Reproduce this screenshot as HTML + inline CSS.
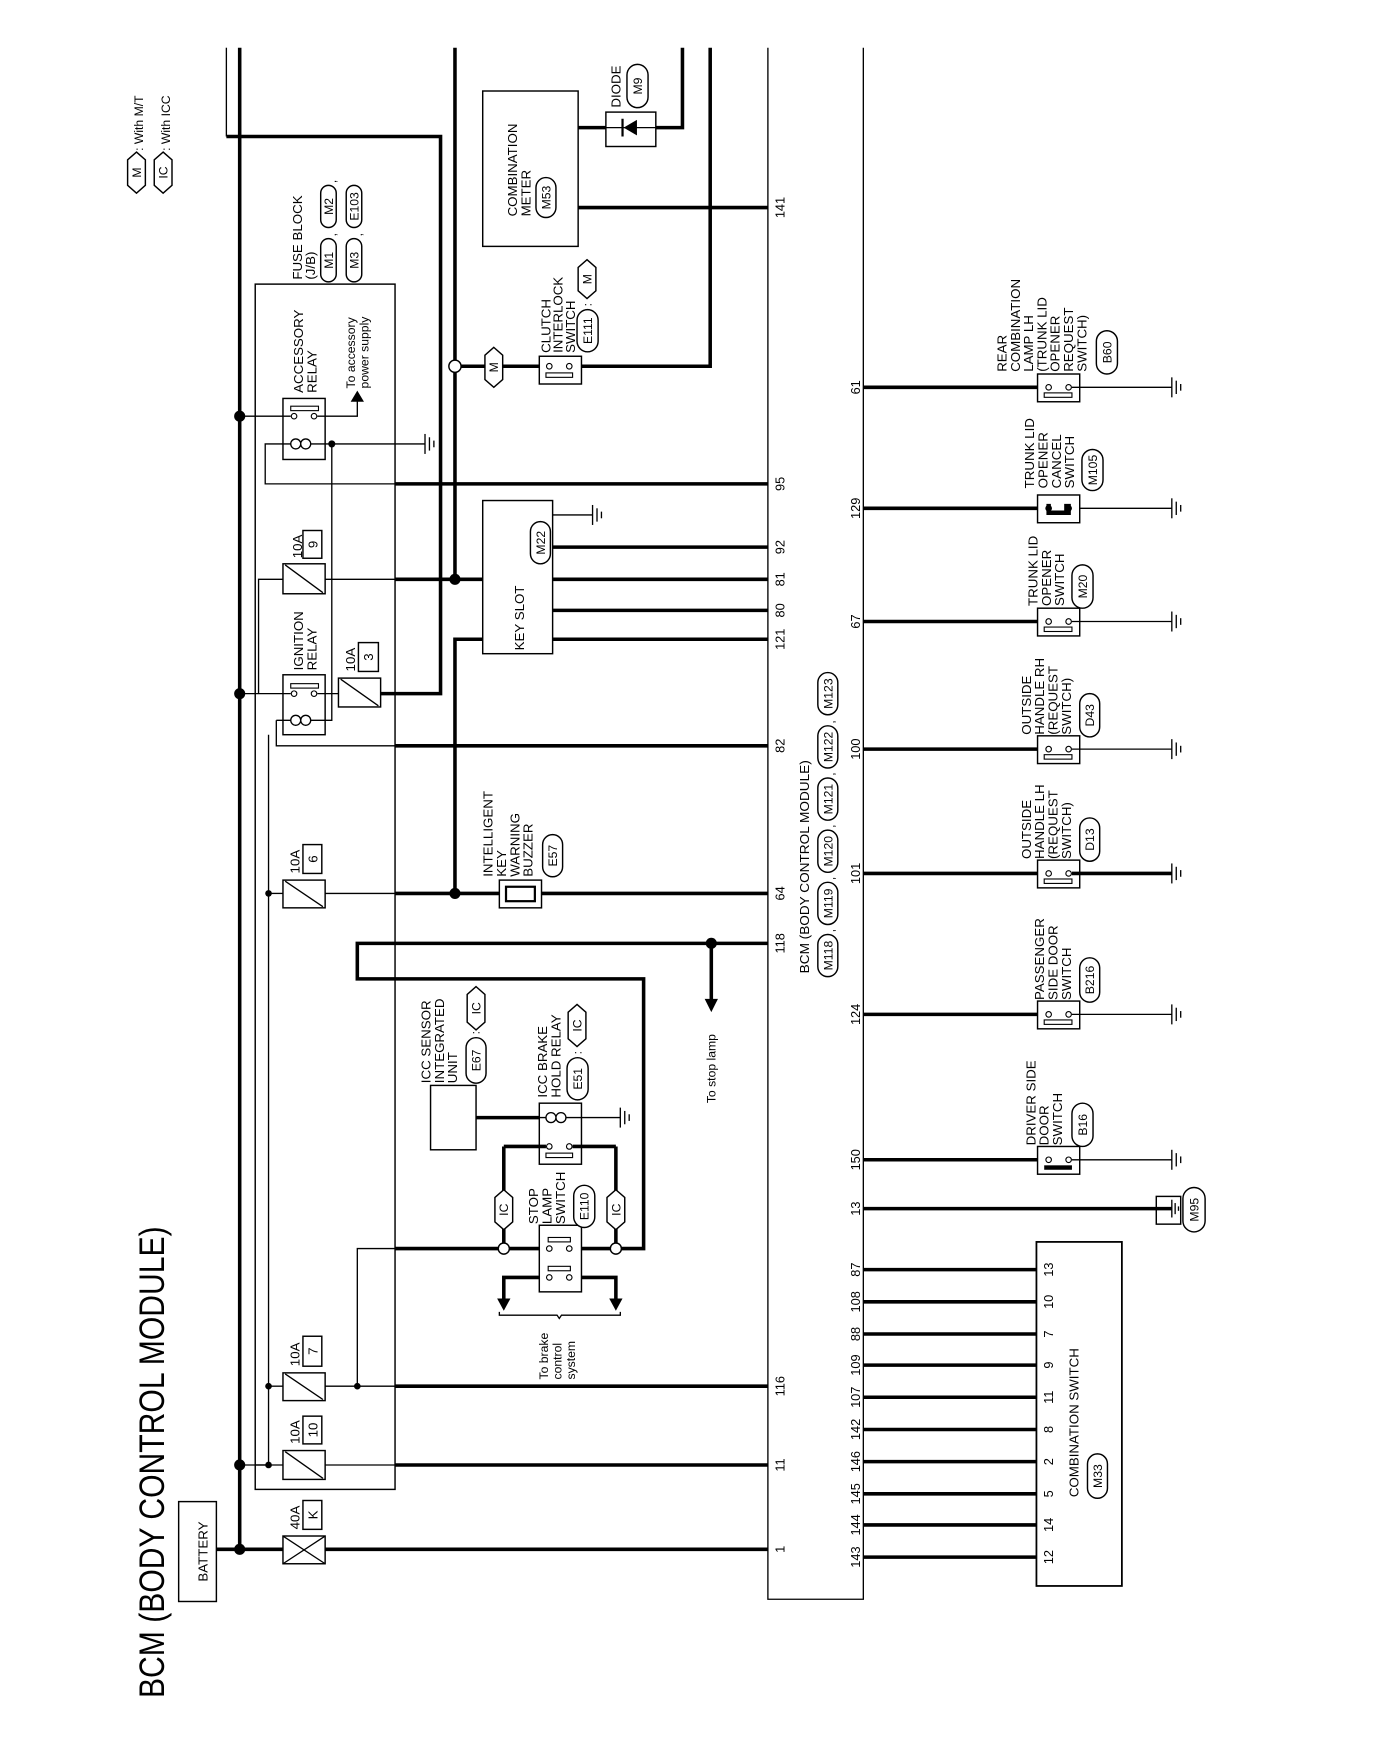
<!DOCTYPE html>
<html><head><meta charset="utf-8"><style>
html,body{margin:0;padding:0;background:#fff;}
svg{display:block;}
text{font-family:"Liberation Sans",Arial,sans-serif;fill:#000;}
.t{font-size:12px;}
.s{font-size:11px;}
.p{font-size:11.5px;}
.k{stroke:#000;stroke-width:3.2;fill:none;}
.n{stroke:#000;stroke-width:1.2;fill:none;}
.b{stroke:#000;stroke-width:1.3;fill:#fff;}
</style></head><body>
<svg width="1376" height="1738" viewBox="0 0 1240 1566" preserveAspectRatio="none" xmlns="http://www.w3.org/2000/svg">
<rect width="1240" height="1566" fill="#fff"/>

<!-- Title -->
<text transform="translate(148,1530) rotate(-90)" style="font-size:32px" textLength="425" lengthAdjust="spacingAndGlyphs">BCM (BODY CONTROL MODULE)</text>

<!-- Legend -->
<polygon class="b" points="123,137 131,144 131,167 123,174 115,167 115,144"/>
<text class="s" transform="translate(127,155.5) rotate(-90)" text-anchor="middle">M</text>
<text class="s" transform="translate(129,136) rotate(-90)">: With M/T</text>
<polygon class="b" points="147,137 155,144 155,167 147,174 139,167 139,144"/>
<text class="s" transform="translate(151,155.5) rotate(-90)" text-anchor="middle">IC</text>
<text class="s" transform="translate(153,136) rotate(-90)">: With ICC</text>

<!-- Battery -->
<rect class="b" x="161" y="1353" width="34" height="90"/>
<text class="t" transform="translate(187,1398) rotate(-90)" text-anchor="middle">BATTERY</text>

<!-- Main bus -->
<line class="k" x1="216" y1="43" x2="216" y2="1396"/>
<line class="n" x1="204" y1="43" x2="204" y2="123"/>
<polyline class="k" points="204,123 397,123 397,625 343,625"/>
<line class="k" x1="410" y1="43" x2="410" y2="522"/>
<polyline class="k" points="435,576 410,576 410,805"/>
<polyline class="k" points="615,43 615,115 591,115"/>
<polyline class="k" points="640,43 640,330 524,330"/>

<!-- BCM box -->
<polyline class="n" points="692,43 692,1441 778,1441 778,43"/>
<text class="t" transform="translate(729,877) rotate(-90)" textLength="192" lengthAdjust="spacingAndGlyphs">BCM (BODY CONTROL MODULE)</text>

<!-- Fuse block box -->
<rect x="230" y="256" width="126" height="1086" fill="none" stroke="#000" stroke-width="1.3"/>
<text class="t" transform="translate(272,252) rotate(-90)">FUSE BLOCK</text>
<text class="t" transform="translate(284,252) rotate(-90)">(J/B)</text>

<!-- Battery line & fuse K -->
<line class="k" x1="195" y1="1396" x2="255" y2="1396"/>
<line class="k" x1="293" y1="1396" x2="692" y2="1396"/>
<rect class="b" x="255" y="1384" width="38" height="25"/>
<line class="n" x1="255" y1="1384" x2="293" y2="1409"/><line class="n" x1="293" y1="1384" x2="255" y2="1409"/>
<circle cx="216" cy="1396" r="5"/>
<text class="t" transform="translate(270,1378) rotate(-90)">40A</text>
<rect class="b" x="273" y="1352" width="17" height="26"/>
<text class="t" transform="translate(286,1365) rotate(-90)" text-anchor="middle">K</text>

<!-- Fuse 10 -> pin 11 -->
<line class="n" x1="216" y1="1320" x2="255" y2="1320"/>
<line class="n" x1="293" y1="1320" x2="356" y2="1320"/>
<line class="k" x1="356" y1="1320" x2="692" y2="1320"/>
<rect class="b" x="255" y="1307" width="38" height="26"/><line class="n" x1="257" y1="1308" x2="291" y2="1332"/>
<circle cx="216" cy="1320" r="5"/><circle cx="242" cy="1320" r="3"/>
<text class="t" transform="translate(270,1301) rotate(-90)">10A</text>
<rect class="b" x="273" y="1276" width="17" height="25"/>
<text class="t" transform="translate(286,1288.5) rotate(-90)" text-anchor="middle">10</text>
<line class="n" x1="230" y1="1320" x2="242" y2="1320"/>

<!-- Fuse 7 -> pin 116 -->
<line class="n" x1="242" y1="662" x2="242" y2="1320"/>
<line class="n" x1="242" y1="1249" x2="255" y2="1249"/>
<line class="n" x1="293" y1="1249" x2="356" y2="1249"/>
<line class="k" x1="356" y1="1249" x2="692" y2="1249"/>
<rect class="b" x="255" y="1237" width="38" height="25"/><line class="n" x1="257" y1="1238" x2="291" y2="1261"/>
<circle cx="242" cy="1249" r="3"/><circle cx="322" cy="1249" r="3"/>
<text class="t" transform="translate(270,1231) rotate(-90)">10A</text>
<rect class="b" x="273" y="1204" width="17" height="27"/>
<text class="t" transform="translate(286,1217.5) rotate(-90)" text-anchor="middle">7</text>
<polyline class="n" points="322,1249 322,1125 356,1125"/>
<line class="k" x1="356" y1="1125" x2="449" y2="1125"/>

<!-- Stop lamp switch -->
<rect class="b" x="486" y="1104" width="38" height="60"/>
<rect x="494" y="1115" width="20" height="4" fill="#fff" stroke="#000" stroke-width="1"/>
<rect x="494" y="1141" width="20" height="4" fill="#fff" stroke="#000" stroke-width="1"/>
<circle cx="495" cy="1125" r="2.5" fill="#fff" stroke="#000"/><circle cx="513" cy="1125" r="2.5" fill="#fff" stroke="#000"/>
<circle cx="495" cy="1151" r="2.5" fill="#fff" stroke="#000"/><circle cx="513" cy="1151" r="2.5" fill="#fff" stroke="#000"/>
<line class="k" x1="459" y1="1125" x2="486" y2="1125"/>
<line class="k" x1="524" y1="1125" x2="550" y2="1125"/>
<circle cx="454" cy="1125" r="5" fill="#fff" stroke="#000" stroke-width="1.3"/>
<circle cx="555" cy="1125" r="5" fill="#fff" stroke="#000" stroke-width="1.3"/>
<polyline class="k" points="560,1125 580,1125 580,882 322,882 322,850 692,850"/>
<polyline class="k" points="486,1151 454,1151 454,1172"/>
<polyline class="k" points="524,1151 555,1151 555,1172"/>
<polygon points="448,1170 460,1170 454,1181"/><polygon points="549,1170 561,1170 555,1181"/>
<path class="n" d="M450,1182 v3 h52 l2,3 l2,-3 h53 v-3"/>
<text class="s" transform="translate(494,1243) rotate(-90)">To brake</text>
<text class="s" transform="translate(506,1243) rotate(-90)">control</text>
<text class="s" transform="translate(518,1243) rotate(-90)">system</text>
<text class="t" transform="translate(485,1103) rotate(-90)">STOP</text>
<text class="t" transform="translate(497,1103) rotate(-90)">LAMP</text>
<text class="t" transform="translate(509,1103) rotate(-90)">SWITCH</text>
<rect class="b" x="517" y="1068" width="19" height="38" rx="9.5"/>
<text class="s" transform="translate(530.5,1087) rotate(-90)" text-anchor="middle">E110</text>
<line class="k" x1="454" y1="1033" x2="454" y2="1120"/>
<line class="k" x1="555" y1="1033" x2="555" y2="1120"/>
<polygon class="b" points="454,1072 462,1079 462,1101 454,1108 446,1101 446,1079"/>
<text class="s" transform="translate(458,1090) rotate(-90)" text-anchor="middle">IC</text>
<polygon class="b" points="555,1072 563,1079 563,1101 555,1108 547,1101 547,1079"/>
<text class="s" transform="translate(559,1090) rotate(-90)" text-anchor="middle">IC</text>

<!-- ICC brake hold relay -->
<rect class="b" x="486" y="994" width="38" height="55"/>
<path class="n" d="M486,1007 h6 m0,0 a4.5,4.5 0 1 1 9,0 a4.5,4.5 0 1 1 9,0 a4.5,4.5 0 1 1 -9,0 a4.5,4.5 0 1 1 -9,0 M510,1007 h14"/>
<line class="n" x1="524" y1="1007" x2="559" y2="1007"/>
<line class="n" x1="559" y1="998" x2="559" y2="1016"/><line class="n" x1="563" y1="1001" x2="563" y2="1013"/><line class="n" x1="567" y1="1004" x2="567" y2="1010"/>
<circle cx="495" cy="1033" r="2.5" fill="#fff" stroke="#000"/><circle cx="513" cy="1033" r="2.5" fill="#fff" stroke="#000"/>
<rect x="492" y="1039" width="24" height="4" fill="#fff" stroke="#000" stroke-width="1"/>
<polyline class="k" points="454,1033 492,1033"/>
<polyline class="k" points="516,1033 555,1033"/>
<text class="t" transform="translate(493,989) rotate(-90)">ICC BRAKE</text>
<text class="t" transform="translate(505,989) rotate(-90)">HOLD RELAY</text>
<rect class="b" x="511" y="953" width="19" height="38" rx="9.5"/>
<text class="s" transform="translate(524.5,972) rotate(-90)" text-anchor="middle">E51</text>
<text class="s" transform="translate(524,950) rotate(-90)">:</text>
<polygon class="b" points="520,905 528,912 528,936 520,943 512,936 512,912"/>
<text class="s" transform="translate(524,924) rotate(-90)" text-anchor="middle">IC</text>

<!-- ICC sensor -->
<rect class="b" x="388" y="978" width="41" height="58"/>
<line class="k" x1="429" y1="1007" x2="486" y2="1007"/>
<text class="t" transform="translate(388,976) rotate(-90)">ICC SENSOR</text>
<text class="t" transform="translate(400,976) rotate(-90)">INTEGRATED</text>
<text class="t" transform="translate(412,976) rotate(-90)">UNIT</text>
<rect class="b" x="420" y="935" width="18" height="41" rx="9"/>
<text class="s" transform="translate(433,955.5) rotate(-90)" text-anchor="middle">E67</text>
<text class="s" transform="translate(432,932) rotate(-90)">:</text>
<polygon class="b" points="429,889 437,896 437,921 429,928 421,921 421,896"/>
<text class="s" transform="translate(433,908.5) rotate(-90)" text-anchor="middle">IC</text>

<!-- 118 stop lamp -->
<circle cx="641" cy="850" r="5"/>
<line class="k" x1="641" y1="850" x2="641" y2="902"/>
<polygon points="635,900 647,900 641,912"/>
<text class="s" transform="translate(645,994) rotate(-90)">To stop lamp</text>

<!-- Fuse 6 / buzzer -> 64 -->
<line class="n" x1="242" y1="805" x2="255" y2="805"/>
<line class="n" x1="293" y1="805" x2="356" y2="805"/>
<line class="k" x1="356" y1="805" x2="450" y2="805"/>
<line class="k" x1="488" y1="805" x2="692" y2="805"/>
<rect class="b" x="255" y="793" width="38" height="25"/><line class="n" x1="257" y1="794" x2="291" y2="817"/>
<circle cx="242" cy="805" r="3"/><circle cx="410" cy="805" r="5"/>
<text class="t" transform="translate(270,787) rotate(-90)">10A</text>
<rect class="b" x="273" y="761" width="17" height="26"/>
<text class="t" transform="translate(286,774) rotate(-90)" text-anchor="middle">6</text>
<rect class="b" x="450" y="793" width="38" height="25"/>
<rect x="456" y="799" width="26" height="13" fill="#fff" stroke="#000" stroke-width="2"/>
<text class="t" transform="translate(444,790) rotate(-90)">INTELLIGENT</text>
<text class="t" transform="translate(456,790) rotate(-90)">KEY</text>
<text class="t" transform="translate(468,790) rotate(-90)">WARNING</text>
<text class="t" transform="translate(480,790) rotate(-90)">BUZZER</text>
<rect class="b" x="489" y="752" width="18" height="38" rx="9"/>
<text class="s" transform="translate(502,771) rotate(-90)" text-anchor="middle">E57</text>

<!-- Ignition relay -->
<rect class="b" x="255" y="608" width="38" height="54"/>
<rect x="262" y="616" width="25" height="4" fill="#fff" stroke="#000" stroke-width="1"/>
<circle cx="265" cy="625" r="2.5" fill="#fff" stroke="#000"/><circle cx="283" cy="625" r="2.5" fill="#fff" stroke="#000"/>
<line class="n" x1="216" y1="625" x2="262" y2="625"/>
<line class="n" x1="286" y1="625" x2="305" y2="625"/>
<circle cx="216" cy="625" r="5"/>
<path class="n" d="M249,649 h13 a4.5,4.5 0 1 1 9,0 a4.5,4.5 0 1 1 9,0 a4.5,4.5 0 1 1 -9,0 a4.5,4.5 0 1 1 -9,0 M280,649 h19 V400"/>
<polyline class="n" points="249,649 249,672 356,672"/>
<line class="k" x1="356" y1="672" x2="692" y2="672"/>
<rect class="b" x="305" y="611" width="38" height="26"/><line class="n" x1="307" y1="612" x2="341" y2="636"/>
<text class="t" transform="translate(273,604) rotate(-90)">IGNITION</text>
<text class="t" transform="translate(285,604) rotate(-90)">RELAY</text>
<text class="t" transform="translate(320,605) rotate(-90)">10A</text>
<rect class="b" x="323" y="579" width="18" height="26"/>
<text class="t" transform="translate(336,592) rotate(-90)" text-anchor="middle">3</text>

<!-- Fuse 9 -> 81 -->
<polyline class="n" points="233,625 233,522 255,522"/>
<line class="n" x1="293" y1="522" x2="356" y2="522"/>
<line class="k" x1="356" y1="522" x2="435" y2="522"/>
<rect class="b" x="255" y="508" width="38" height="27"/><line class="n" x1="257" y1="509" x2="291" y2="534"/>
<circle cx="410" cy="522" r="5"/>
<text class="t" transform="translate(272,503) rotate(-90)">10A</text>
<rect class="b" x="273" y="478" width="17" height="25"/>
<text class="t" transform="translate(286,490.5) rotate(-90)" text-anchor="middle">9</text>

<!-- Key slot -->
<rect class="b" x="435" y="451" width="63" height="138"/>
<text class="t" transform="translate(472,586) rotate(-90)">KEY SLOT</text>
<rect class="b" x="478" y="470" width="18" height="38" rx="9"/>
<text class="s" transform="translate(491,489) rotate(-90)" text-anchor="middle">M22</text>
<line class="n" x1="498" y1="464" x2="534" y2="464"/>
<line class="n" x1="534" y1="455" x2="534" y2="473"/><line class="n" x1="538" y1="458" x2="538" y2="470"/><line class="n" x1="542" y1="461" x2="542" y2="467"/>
<line class="k" x1="498" y1="493" x2="692" y2="493"/>
<line class="k" x1="498" y1="522" x2="692" y2="522"/>
<line class="k" x1="498" y1="550" x2="692" y2="550"/>
<line class="k" x1="498" y1="576" x2="692" y2="576"/>

<!-- Accessory relay -->
<rect class="b" x="255" y="359" width="38" height="55"/>
<rect x="262" y="366" width="25" height="4" fill="#fff" stroke="#000" stroke-width="1"/>
<circle cx="265" cy="375" r="2.5" fill="#fff" stroke="#000"/><circle cx="283" cy="375" r="2.5" fill="#fff" stroke="#000"/>
<line class="n" x1="216" y1="375" x2="262" y2="375"/>
<polyline class="n" points="286,375 322,375 322,361"/>
<polygon points="316,362 328,362 322,352"/>
<circle cx="216" cy="375" r="5"/>
<path class="n" d="M262,400 a4.5,4.5 0 1 1 9,0 a4.5,4.5 0 1 1 9,0 a4.5,4.5 0 1 1 -9,0 a4.5,4.5 0 1 1 -9,0 M280,400 h103"/>
<circle cx="299" cy="400" r="3.2"/>
<line class="n" x1="383" y1="391" x2="383" y2="409"/><line class="n" x1="387" y1="394" x2="387" y2="406"/><line class="n" x1="391" y1="397" x2="391" y2="403"/>
<polyline class="n" points="262,400 239,400 239,436 356,436"/>
<line class="k" x1="356" y1="436" x2="692" y2="436"/>
<text class="t" transform="translate(273,354) rotate(-90)">ACCESSORY</text>
<text class="t" transform="translate(285,354) rotate(-90)">RELAY</text>
<text class="s" transform="translate(320,350) rotate(-90)">To accessory</text>
<text class="s" transform="translate(332,350) rotate(-90)">power supply</text>

<!-- Fuse block connectors -->
<rect class="b" x="289" y="215" width="14" height="39" rx="7"/>
<text class="s" transform="translate(300,234.5) rotate(-90)" text-anchor="middle">M1</text>
<rect class="b" x="289" y="167" width="14" height="38" rx="7"/>
<text class="s" transform="translate(300,186) rotate(-90)" text-anchor="middle">M2</text>
<rect class="b" x="312" y="215" width="14" height="39" rx="7"/>
<text class="s" transform="translate(323,234.5) rotate(-90)" text-anchor="middle">M3</text>
<rect class="b" x="312" y="167" width="14" height="38" rx="7"/>
<text class="s" transform="translate(323,186) rotate(-90)" text-anchor="middle">E103</text>
<text class="s" transform="translate(303,213) rotate(-90)">,</text>
<text class="s" transform="translate(326,213) rotate(-90)">,</text>
<text class="s" transform="translate(303,165) rotate(-90)">,</text>

<!-- Clutch interlock -->
<circle cx="410" cy="330" r="5.5" fill="#fff" stroke="#000" stroke-width="1.3"/>
<line class="k" x1="415" y1="330" x2="486" y2="330"/>
<polygon class="b" points="445,313 453,320 453,342 445,349 437,342 437,320"/>
<text class="s" transform="translate(449,331) rotate(-90)" text-anchor="middle">M</text>
<rect class="b" x="486" y="321" width="38" height="25"/>
<circle cx="495" cy="330" r="2.5" fill="#fff" stroke="#000"/><circle cx="513" cy="330" r="2.5" fill="#fff" stroke="#000"/>
<rect x="492" y="336" width="24" height="4" fill="#fff" stroke="#000" stroke-width="1"/>
<text class="t" transform="translate(496,318) rotate(-90)">CLUTCH</text>
<text class="t" transform="translate(507,318) rotate(-90)">INTERLOCK</text>
<text class="t" transform="translate(518,318) rotate(-90)">SWITCH</text>
<rect class="b" x="520" y="279" width="19" height="38" rx="9.5"/>
<text class="s" transform="translate(533.5,298) rotate(-90)" text-anchor="middle">E111</text>
<text class="s" transform="translate(533,276) rotate(-90)">:</text>
<polygon class="b" points="529,234 537,241 537,262 529,269 521,262 521,241"/>
<text class="s" transform="translate(533,251.5) rotate(-90)" text-anchor="middle">M</text>

<!-- Combination meter & diode -->
<rect class="b" x="435" y="82" width="86" height="140"/>
<text class="t" transform="translate(466,195) rotate(-90)">COMBINATION</text>
<text class="t" transform="translate(478,195) rotate(-90)">METER</text>
<rect class="b" x="483" y="160" width="18" height="36" rx="9"/>
<text class="s" transform="translate(496,178) rotate(-90)" text-anchor="middle">M53</text>
<line class="k" x1="521" y1="187" x2="692" y2="187"/>
<line class="k" x1="521" y1="115" x2="546" y2="115"/>
<rect class="b" x="546" y="101" width="45" height="31"/>
<line class="n" x1="546" y1="115" x2="591" y2="115"/>
<polygon points="562,115 574,108 574,122"/>
<line x1="561" y1="107" x2="561" y2="123" stroke="#000" stroke-width="2"/>
<text class="t" transform="translate(559,97) rotate(-90)">DIODE</text>
<rect class="b" x="565" y="58" width="19" height="39" rx="9.5"/>
<text class="s" transform="translate(578.5,77.5) rotate(-90)" text-anchor="middle">M9</text>

<!-- BCM left pin labels -->
<g class="p">
<text transform="translate(707,187) rotate(-90)" text-anchor="middle">141</text>
<text transform="translate(707,436) rotate(-90)" text-anchor="middle">95</text>
<text transform="translate(707,493) rotate(-90)" text-anchor="middle">92</text>
<text transform="translate(707,522) rotate(-90)" text-anchor="middle">81</text>
<text transform="translate(707,550) rotate(-90)" text-anchor="middle">80</text>
<text transform="translate(707,576) rotate(-90)" text-anchor="middle">121</text>
<text transform="translate(707,672) rotate(-90)" text-anchor="middle">82</text>
<text transform="translate(707,805) rotate(-90)" text-anchor="middle">64</text>
<text transform="translate(707,850) rotate(-90)" text-anchor="middle">118</text>
<text transform="translate(707,1249) rotate(-90)" text-anchor="middle">116</text>
<text transform="translate(707,1320) rotate(-90)" text-anchor="middle">11</text>
<text transform="translate(707,1396) rotate(-90)" text-anchor="middle">1</text>
</g>
<!-- BCM connectors -->
<g>
<rect class="b" x="737" y="842" width="18" height="38" rx="9"/><text class="s" transform="translate(750,861) rotate(-90)" text-anchor="middle">M118</text>
<rect class="b" x="737" y="795" width="18" height="38" rx="9"/><text class="s" transform="translate(750,814) rotate(-90)" text-anchor="middle">M119</text>
<rect class="b" x="737" y="748" width="18" height="38" rx="9"/><text class="s" transform="translate(750,767) rotate(-90)" text-anchor="middle">M120</text>
<rect class="b" x="737" y="701" width="18" height="38" rx="9"/><text class="s" transform="translate(750,720) rotate(-90)" text-anchor="middle">M121</text>
<rect class="b" x="737" y="654" width="18" height="38" rx="9"/><text class="s" transform="translate(750,673) rotate(-90)" text-anchor="middle">M122</text>
<rect class="b" x="737" y="606" width="18" height="38" rx="9"/><text class="s" transform="translate(750,625) rotate(-90)" text-anchor="middle">M123</text>
<text class="s" transform="translate(752,840) rotate(-90)">,</text>
<text class="s" transform="translate(752,793) rotate(-90)">,</text>
<text class="s" transform="translate(752,746) rotate(-90)">,</text>
<text class="s" transform="translate(752,699) rotate(-90)">,</text>
<text class="s" transform="translate(752,652) rotate(-90)">,</text>
</g>

<!-- Right side pins -->
<g class="p">
<text transform="translate(775,349) rotate(-90)" text-anchor="middle">61</text>
<text transform="translate(775,458) rotate(-90)" text-anchor="middle">129</text>
<text transform="translate(775,560) rotate(-90)" text-anchor="middle">67</text>
<text transform="translate(775,675) rotate(-90)" text-anchor="middle">100</text>
<text transform="translate(775,787) rotate(-90)" text-anchor="middle">101</text>
<text transform="translate(775,914) rotate(-90)" text-anchor="middle">124</text>
<text transform="translate(775,1045) rotate(-90)" text-anchor="middle">150</text>
<text transform="translate(775,1089) rotate(-90)" text-anchor="middle">13</text>
</g>

<!-- Switches right -->
<g>
<!-- 61 -->
<line class="k" x1="778" y1="349" x2="935" y2="349"/>
<rect class="b" x="935" y="337" width="38" height="25"/>
<circle cx="945" cy="349" r="2.5" fill="#fff" stroke="#000"/><circle cx="963" cy="349" r="2.5" fill="#fff" stroke="#000"/>
<rect x="941" y="354" width="25" height="4" fill="#fff" stroke="#000" stroke-width="1"/>
<line class="n" x1="966" y1="349" x2="1056" y2="349"/>
<line class="n" x1="1056" y1="340" x2="1056" y2="358"/><line class="n" x1="1060" y1="343" x2="1060" y2="355"/><line class="n" x1="1064" y1="346" x2="1064" y2="352"/>
<text class="t" transform="translate(907,335) rotate(-90)">REAR</text>
<text class="t" transform="translate(919,335) rotate(-90)">COMBINATION</text>
<text class="t" transform="translate(931,335) rotate(-90)">LAMP LH</text>
<text class="t" transform="translate(943,335) rotate(-90)">(TRUNK LID</text>
<text class="t" transform="translate(955,335) rotate(-90)">OPENER</text>
<text class="t" transform="translate(967,335) rotate(-90)">REQUEST</text>
<text class="t" transform="translate(979,335) rotate(-90)">SWITCH)</text>
<rect class="b" x="988" y="298" width="19" height="39" rx="9.5"/><text class="s" transform="translate(1001.5,317.5) rotate(-90)" text-anchor="middle">B60</text>

<!-- 129 -->
<line class="k" x1="778" y1="458" x2="935" y2="458"/>
<rect class="b" x="935" y="446" width="38" height="25"/>
<path d="M943,454 h4 v6 h12 v-6 h6 v10 h-22 z" fill="#000"/>
<circle cx="945" cy="458" r="3"/><circle cx="963" cy="458" r="3"/>
<line class="n" x1="973" y1="458" x2="1056" y2="458"/>
<line class="n" x1="1056" y1="449" x2="1056" y2="467"/><line class="n" x1="1060" y1="452" x2="1060" y2="464"/><line class="n" x1="1064" y1="455" x2="1064" y2="461"/>
<text class="t" transform="translate(932,440) rotate(-90)">TRUNK LID</text>
<text class="t" transform="translate(944,440) rotate(-90)">OPENER</text>
<text class="t" transform="translate(956,440) rotate(-90)">CANCEL</text>
<text class="t" transform="translate(968,440) rotate(-90)">SWITCH</text>
<rect class="b" x="975" y="405" width="19" height="37" rx="9.5"/><text class="s" transform="translate(988.5,423.5) rotate(-90)" text-anchor="middle">M105</text>

<!-- 67 -->
<line class="k" x1="778" y1="560" x2="935" y2="560"/>
<rect class="b" x="935" y="548" width="38" height="25"/>
<circle cx="945" cy="560" r="2.5" fill="#fff" stroke="#000"/><circle cx="963" cy="560" r="2.5" fill="#fff" stroke="#000"/>
<rect x="941" y="565" width="25" height="4" fill="#fff" stroke="#000" stroke-width="1"/>
<line class="n" x1="966" y1="560" x2="1056" y2="560"/>
<line class="n" x1="1056" y1="551" x2="1056" y2="569"/><line class="n" x1="1060" y1="554" x2="1060" y2="566"/><line class="n" x1="1064" y1="557" x2="1064" y2="563"/>
<text class="t" transform="translate(935,546) rotate(-90)">TRUNK LID</text>
<text class="t" transform="translate(947,546) rotate(-90)">OPENER</text>
<text class="t" transform="translate(959,546) rotate(-90)">SWITCH</text>
<rect class="b" x="966" y="509" width="19" height="39" rx="9.5"/><text class="s" transform="translate(979.5,528.5) rotate(-90)" text-anchor="middle">M20</text>

<!-- 100 -->
<line class="k" x1="778" y1="675" x2="935" y2="675"/>
<rect class="b" x="935" y="663" width="38" height="25"/>
<circle cx="945" cy="675" r="2.5" fill="#fff" stroke="#000"/><circle cx="963" cy="675" r="2.5" fill="#fff" stroke="#000"/>
<rect x="941" y="680" width="25" height="4" fill="#fff" stroke="#000" stroke-width="1"/>
<line class="n" x1="966" y1="675" x2="1056" y2="675"/>
<line class="n" x1="1056" y1="666" x2="1056" y2="684"/><line class="n" x1="1060" y1="669" x2="1060" y2="681"/><line class="n" x1="1064" y1="672" x2="1064" y2="678"/>
<text class="t" transform="translate(929,662) rotate(-90)">OUTSIDE</text>
<text class="t" transform="translate(941,662) rotate(-90)">HANDLE RH</text>
<text class="t" transform="translate(953,662) rotate(-90)">(REQUEST</text>
<text class="t" transform="translate(965,662) rotate(-90)">SWITCH)</text>
<rect class="b" x="973" y="625" width="18" height="39" rx="9"/><text class="s" transform="translate(986,644.5) rotate(-90)" text-anchor="middle">D43</text>

<!-- 101 -->
<line class="k" x1="778" y1="787" x2="935" y2="787"/>
<rect class="b" x="935" y="775" width="38" height="25"/>
<circle cx="945" cy="787" r="2.5" fill="#fff" stroke="#000"/><circle cx="963" cy="787" r="2.5" fill="#fff" stroke="#000"/>
<rect x="941" y="792" width="25" height="4" fill="#fff" stroke="#000" stroke-width="1"/>
<line class="k" x1="966" y1="787" x2="1056" y2="787"/>
<line class="n" x1="1056" y1="778" x2="1056" y2="796"/><line class="n" x1="1060" y1="781" x2="1060" y2="793"/><line class="n" x1="1064" y1="784" x2="1064" y2="790"/>
<text class="t" transform="translate(929,774) rotate(-90)">OUTSIDE</text>
<text class="t" transform="translate(941,774) rotate(-90)">HANDLE LH</text>
<text class="t" transform="translate(953,774) rotate(-90)">(REQUEST</text>
<text class="t" transform="translate(965,774) rotate(-90)">SWITCH)</text>
<rect class="b" x="973" y="737" width="18" height="39" rx="9"/><text class="s" transform="translate(986,756.5) rotate(-90)" text-anchor="middle">D13</text>

<!-- 124 -->
<line class="k" x1="778" y1="914" x2="935" y2="914"/>
<rect class="b" x="935" y="902" width="38" height="25"/>
<circle cx="945" cy="914" r="2.5" fill="#fff" stroke="#000"/><circle cx="963" cy="914" r="2.5" fill="#fff" stroke="#000"/>
<rect x="941" y="919" width="25" height="4" fill="#fff" stroke="#000" stroke-width="1"/>
<line class="n" x1="966" y1="914" x2="1056" y2="914"/>
<line class="n" x1="1056" y1="905" x2="1056" y2="923"/><line class="n" x1="1060" y1="908" x2="1060" y2="920"/><line class="n" x1="1064" y1="911" x2="1064" y2="917"/>
<text class="t" transform="translate(941,901) rotate(-90)">PASSENGER</text>
<text class="t" transform="translate(953,901) rotate(-90)">SIDE DOOR</text>
<text class="t" transform="translate(965,901) rotate(-90)">SWITCH</text>
<rect class="b" x="973" y="863" width="18" height="40" rx="9"/><text class="s" transform="translate(986,883) rotate(-90)" text-anchor="middle">B216</text>

<!-- 150 -->
<line class="k" x1="778" y1="1045" x2="935" y2="1045"/>
<rect class="b" x="935" y="1033" width="38" height="25"/>
<circle cx="945" cy="1045" r="2.5" fill="#fff" stroke="#000"/><circle cx="963" cy="1045" r="2.5" fill="#fff" stroke="#000"/>
<rect x="941" y="1050" width="25" height="4" fill="#000"/>
<line class="n" x1="966" y1="1045" x2="1056" y2="1045"/>
<line class="n" x1="1056" y1="1036" x2="1056" y2="1054"/><line class="n" x1="1060" y1="1039" x2="1060" y2="1051"/><line class="n" x1="1064" y1="1042" x2="1064" y2="1048"/>
<text class="t" transform="translate(933,1032) rotate(-90)">DRIVER SIDE</text>
<text class="t" transform="translate(945,1032) rotate(-90)">DOOR</text>
<text class="t" transform="translate(957,1032) rotate(-90)">SWITCH</text>
<rect class="b" x="966" y="994" width="19" height="39" rx="9.5"/><text class="s" transform="translate(979.5,1013.5) rotate(-90)" text-anchor="middle">B16</text>

<!-- 13 ground M95 -->
<line class="k" x1="778" y1="1089" x2="1056" y2="1089"/>
<rect class="b" x="1042" y="1078" width="22" height="25" style="fill:none"/>
<line class="n" x1="1056" y1="1081" x2="1056" y2="1097"/><line class="n" x1="1059" y1="1084" x2="1059" y2="1094"/><line class="n" x1="1062" y1="1087" x2="1062" y2="1091"/>
<rect class="b" x="1066" y="1070" width="20" height="40" rx="10"/><text class="s" transform="translate(1080,1090) rotate(-90)" text-anchor="middle">M95</text>
</g>

<!-- Combination switch -->
<rect class="b" x="934" y="1119" width="77" height="310" style="stroke-width:1.6"/>
<text class="t" transform="translate(972,1349) rotate(-90)">COMBINATION SWITCH</text>
<rect class="b" x="980" y="1310" width="18" height="40" rx="9"/><text class="s" transform="translate(993,1330) rotate(-90)" text-anchor="middle">M33</text>
<g>
<line class="k" x1="778" y1="1144" x2="934" y2="1144"/>
<line class="k" x1="778" y1="1173" x2="934" y2="1173"/>
<line class="k" x1="778" y1="1202" x2="934" y2="1202"/>
<line class="k" x1="778" y1="1230" x2="934" y2="1230"/>
<line class="k" x1="778" y1="1259" x2="934" y2="1259"/>
<line class="k" x1="778" y1="1288" x2="934" y2="1288"/>
<line class="k" x1="778" y1="1317" x2="934" y2="1317"/>
<line class="k" x1="778" y1="1346" x2="934" y2="1346"/>
<line class="k" x1="778" y1="1374" x2="934" y2="1374"/>
<line class="k" x1="778" y1="1403" x2="934" y2="1403"/>
</g>
<g class="p">
<text transform="translate(775,1144) rotate(-90)" text-anchor="middle">87</text>
<text transform="translate(775,1173) rotate(-90)" text-anchor="middle">108</text>
<text transform="translate(775,1202) rotate(-90)" text-anchor="middle">88</text>
<text transform="translate(775,1230) rotate(-90)" text-anchor="middle">109</text>
<text transform="translate(775,1259) rotate(-90)" text-anchor="middle">107</text>
<text transform="translate(775,1288) rotate(-90)" text-anchor="middle">142</text>
<text transform="translate(775,1317) rotate(-90)" text-anchor="middle">146</text>
<text transform="translate(775,1346) rotate(-90)" text-anchor="middle">145</text>
<text transform="translate(775,1374) rotate(-90)" text-anchor="middle">144</text>
<text transform="translate(775,1403) rotate(-90)" text-anchor="middle">143</text>
<text transform="translate(949,1144) rotate(-90)" text-anchor="middle">13</text>
<text transform="translate(949,1173) rotate(-90)" text-anchor="middle">10</text>
<text transform="translate(949,1202) rotate(-90)" text-anchor="middle">7</text>
<text transform="translate(949,1230) rotate(-90)" text-anchor="middle">9</text>
<text transform="translate(949,1259) rotate(-90)" text-anchor="middle">11</text>
<text transform="translate(949,1288) rotate(-90)" text-anchor="middle">8</text>
<text transform="translate(949,1317) rotate(-90)" text-anchor="middle">2</text>
<text transform="translate(949,1346) rotate(-90)" text-anchor="middle">5</text>
<text transform="translate(949,1374) rotate(-90)" text-anchor="middle">14</text>
<text transform="translate(949,1403) rotate(-90)" text-anchor="middle">12</text>
</g>
</svg>
</body></html>
